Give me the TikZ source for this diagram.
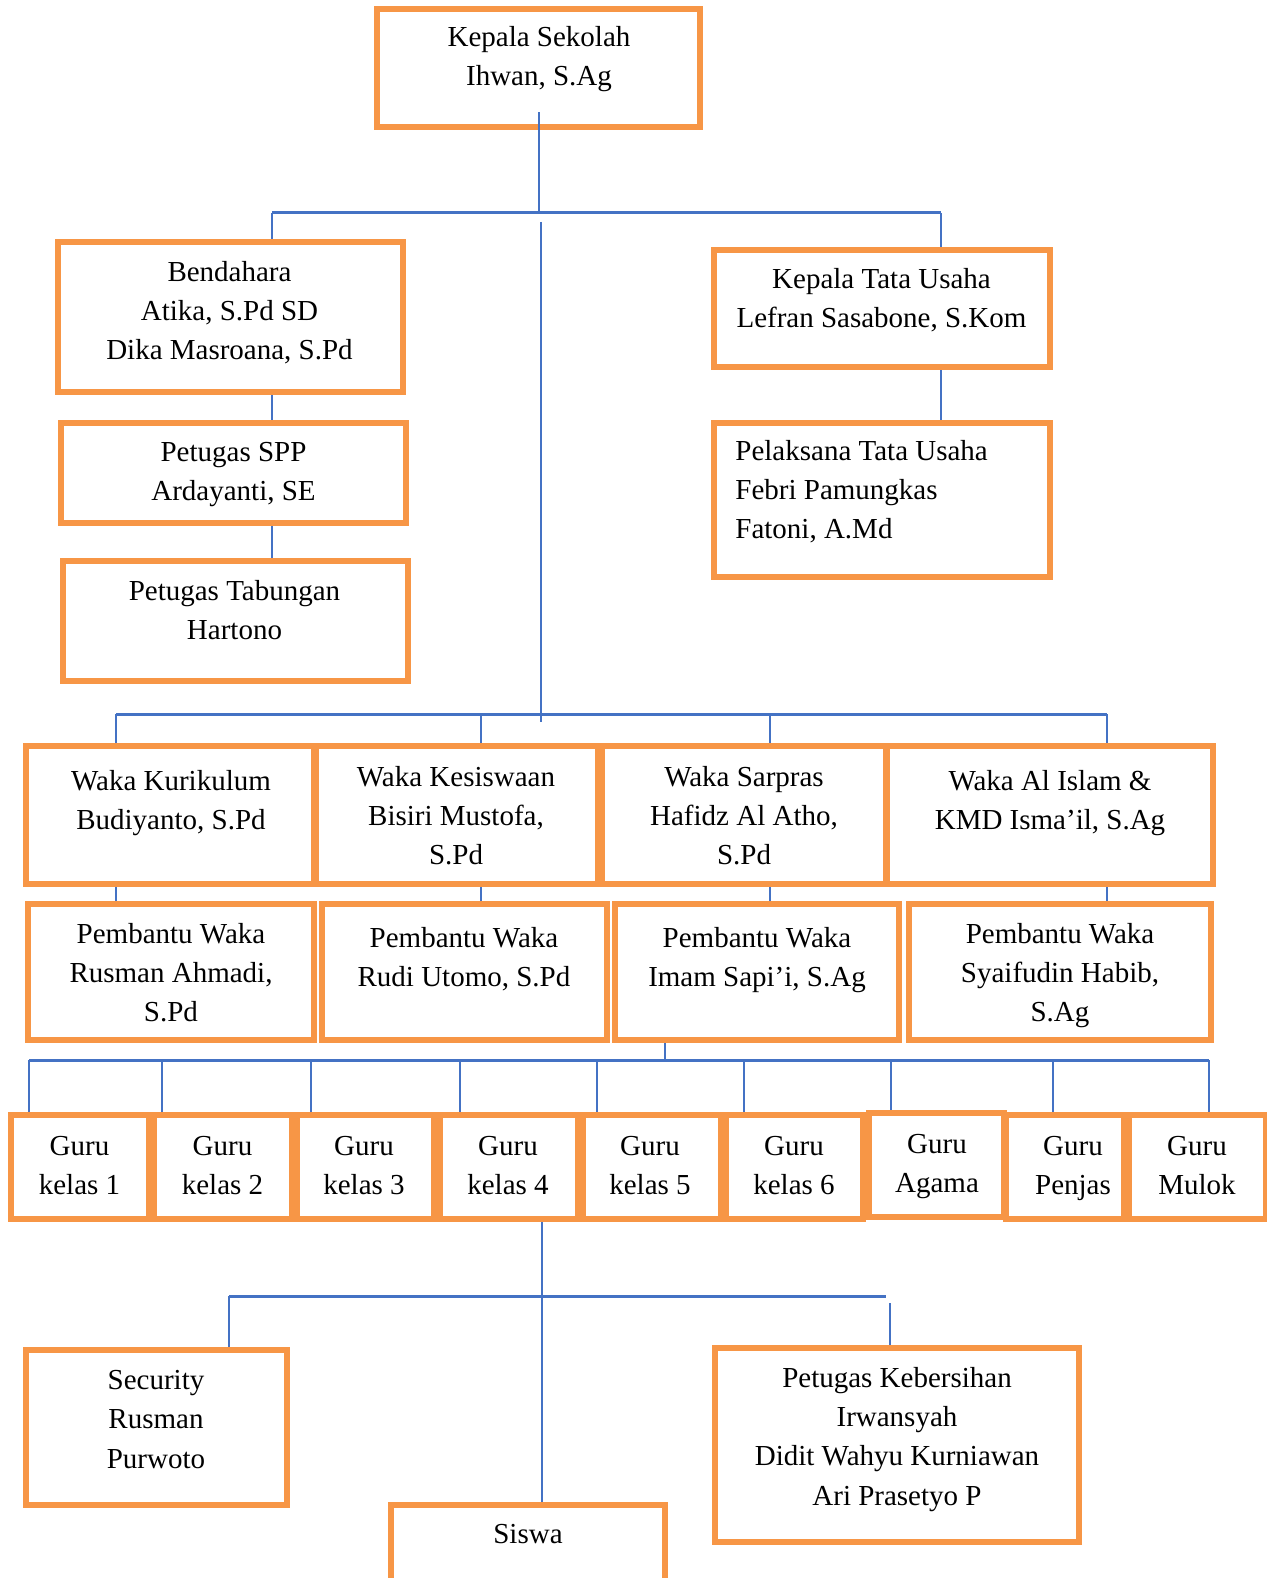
\documentclass[tikz,border=0pt]{standalone}
\usepackage{fontspec}
\setmainfont{Liberation Serif}
\usetikzlibrary{positioning}
\definecolor{boxorange}{HTML}{F79646}
\definecolor{linkblue}{HTML}{4472C4}

\begin{document}
\begin{tikzpicture}[x=0.5pt, y=-0.5pt,
  box/.style = {shape=rectangle, draw=boxorange, line width=3.2pt, inner sep=0pt},
  bx/.style 2 args = {minimum width=#1*0.5pt, minimum height=#2*0.5pt},
  txt/.style = {align=center, inner sep=0pt, anchor=north,
    font=\fontsize{14.5}{19.6}\selectfont},
  link/.style = {draw=linkblue, line width=1pt},
  bar/.style = {draw=linkblue, line width=1.5pt}]
  \path[use as bounding box, fill=white] (0,0) rectangle (1267,1578);

  % top level
  \node[box, bx={323}{118}] (ks) at (538.5,68) {};
  \node[txt] (ks-t) at (539,26) {Kepala Sekolah\\Ihwan, S.Ag};

  % left column
  \node[box, bx={345}{150}] (bend) at (230.5,317) {};
  \node[txt] (bend-t) at (229.5,261) {Bendahara\\Atika, S.Pd SD\\Dika Masroana, S.Pd};
  \node[box, bx={345}{100}] (spp) at (233.5,473) {};
  \node[txt] (spp-t) at (233.5,442) {Petugas SPP\\Ardayanti, SE};
  \node[box, bx={345}{120}] (tab) at (235.5,621) {};
  \node[txt] (tab-t) at (234.5,580) {Petugas Tabungan\\Hartono};

  % right column
  \node[box, bx={336}{117}] (ktu) at (882,308.5) {};
  \node[txt] (ktu-t) at (881.5,268) {Kepala Tata Usaha\\Lefran Sasabone, S.Kom};
  \node[box, bx={336}{154}] (pel) at (882,500) {};
  \node[txt, align=left, anchor=north west] (pel-t) at (735,440)
    {Pelaksana Tata Usaha\\Febri Pamungkas\\Fatoni, A.Md};

  % waka
  \node[box, bx={288}{138}] (wk1) at (170,815) {};
  \node[txt] (wk1-t) at (171,770) {Waka Kurikulum\\Budiyanto, S.Pd};
  \node[box, bx={282}{138}] (wk2) at (457,815) {};
  \node[txt] (wk2-t) at (456,766) {Waka Kesiswaan\\Bisiri Mustofa,\\S.Pd};
  \node[box, bx={284}{138}] (wk3) at (744,815) {};
  \node[txt] (wk3-t) at (744,766) {Waka Sarpras\\Hafidz Al Atho,\\S.Pd};
  \node[box, bx={326}{138}] (wk4) at (1050,815) {};
  \node[txt] (wk4-t) at (1050,770) {Waka Al Islam \&\\KMD Isma’il, S.Ag};

  % pembantu waka
  \node[box, bx={286}{136}] (pw1) at (171,972) {};
  \node[txt] (pw1-t) at (171,923) {Pembantu Waka\\Rusman Ahmadi,\\S.Pd};
  \node[box, bx={285}{136}] (pw2) at (464.5,972) {};
  \node[txt] (pw2-t) at (464,927) {Pembantu Waka\\Rudi Utomo, S.Pd};
  \node[box, bx={284}{136}] (pw3) at (757,972) {};
  \node[txt] (pw3-t) at (757,927) {Pembantu Waka\\Imam Sapi’i, S.Ag};
  \node[box, bx={302}{136}] (pw4) at (1060,972) {};
  \node[txt] (pw4-t) at (1060,923) {Pembantu Waka\\Syaifudin Habib,\\S.Ag};

  % guru
  \node[box, bx={138}{104}] (g1) at (80,1167) {};
  \node[txt] (g1-t) at (79.5,1135.5) {Guru\\kelas 1};
  \node[box, bx={138}{104}] (g2) at (223,1167) {};
  \node[txt] (g2-t) at (222.5,1135.5) {Guru\\kelas 2};
  \node[box, bx={137}{104}] (g3) at (365.5,1167) {};
  \node[txt] (g3-t) at (364,1135.5) {Guru\\kelas 3};
  \node[box, bx={138}{104}] (g4) at (509,1167) {};
  \node[txt] (g4-t) at (508,1135.5) {Guru\\kelas 4};
  \node[box, bx={138}{104}] (g5) at (652,1167) {};
  \node[txt] (g5-t) at (650,1135.5) {Guru\\kelas 5};
  \node[box, bx={137}{104}] (g6) at (794.5,1167) {};
  \node[txt] (g6-t) at (794,1135.5) {Guru\\kelas 6};
  \node[box, bx={135}{104}] (g7) at (936.5,1165) {};
  \node[txt] (g7-t) at (937,1133.5) {Guru\\Agama};
  \node[box, bx={118}{104}] (g8) at (1065,1167) {};
  \node[txt] (g8-t) at (1073,1135.5) {Guru\\Penjas};
  \node[box, bx={137}{104}] (g9) at (1197.5,1167) {};
  \node[txt] (g9-t) at (1197,1135.5) {Guru\\Mulok};

  % bottom
  \node[box, bx={261}{155}] (sec) at (156.5,1427.5) {};
  \node[txt] (sec-t) at (156,1370) {Security\\Rusman\\Purwoto};
  \node[box, bx={274}{95}] (sis) at (528,1552.5) {};
  \node[txt] (sis-t) at (528,1524) {Siswa};
  \node[box, bx={364}{194}] (keb) at (897,1445) {};
  \node[txt] (keb-t) at (897,1367)
    {Petugas Kebersihan\\Irwansyah\\Didit Wahyu Kurniawan\\Ari Prasetyo P};

  % connectors, upper part
  \coordinate (top-l) at (272,213);
  \coordinate (top-r) at (941,213);
  \draw[bar] (top-l) -- (top-r);
  \draw[link] (ks.south) ++(0,-18) -- (ks.south |- top-l);
  \draw[link] (top-l) -- (top-l |- bend.north);
  \draw[link] (top-r) -- (top-r |- ktu.north);
  \draw[link] (top-l |- bend.south) -- (top-l |- spp.north);
  \draw[link] (top-l |- spp.south) -- (top-l |- tab.north);
  \draw[link] (top-r |- ktu.south) -- (top-r |- pel.north);

  \coordinate (trunk-t) at (541,222);
  \coordinate (trunk-b) at (541,722);
  \draw[link] (trunk-t) -- (trunk-b);

  % connectors, waka rows
  \coordinate (wbar-1) at (116,714);
  \coordinate (wbar-2) at (481,714);
  \coordinate (wbar-3) at (770,714);
  \coordinate (wbar-4) at (1107,714);
  \draw[bar] (wbar-1) -- (wbar-4);
  \draw[link] (wbar-1) -- (wbar-1 |- wk1.north);
  \draw[link] (wbar-2) -- (wbar-2 |- wk2.north);
  \draw[link] (wbar-3) -- (wbar-3 |- wk3.north);
  \draw[link] (wbar-4) -- (wbar-4 |- wk4.north);
  \draw[link] (wbar-1 |- wk1.south) -- (wbar-1 |- pw1.north);
  \draw[link] (wbar-2 |- wk2.south) -- (wbar-2 |- pw2.north);
  \draw[link] (wbar-3 |- wk3.south) -- (wbar-3 |- pw3.north);
  \draw[link] (wbar-4 |- wk4.south) -- (wbar-4 |- pw4.north);

  % connectors, guru row
  \coordinate (gbar-c) at (665,1060);
  \coordinate (gbar-1) at (29,1060);
  \coordinate (gbar-2) at (162,1060);
  \coordinate (gbar-3) at (311,1060);
  \coordinate (gbar-4) at (460,1060);
  \coordinate (gbar-5) at (597,1060);
  \coordinate (gbar-6) at (744,1060);
  \coordinate (gbar-7) at (891,1060);
  \coordinate (gbar-8) at (1053,1060);
  \coordinate (gbar-9) at (1209,1060);
  \draw[link] (gbar-c |- pw3.south) -- (gbar-c);
  \draw[bar] (gbar-1) -- (gbar-9);
  \draw[link] (gbar-1) -- (gbar-1 |- g1.north);
  \draw[link] (gbar-2) -- (gbar-2 |- g2.north);
  \draw[link] (gbar-3) -- (gbar-3 |- g3.north);
  \draw[link] (gbar-4) -- (gbar-4 |- g4.north);
  \draw[link] (gbar-5) -- (gbar-5 |- g5.north);
  \draw[link] (gbar-6) -- (gbar-6 |- g6.north);
  \draw[link] (gbar-7) -- (gbar-7 |- g7.north);
  \draw[link] (gbar-8) -- (gbar-8 |- g8.north);
  \draw[link] (gbar-9) -- (gbar-9 |- g9.north);

  % connectors, lower part
  \coordinate (lbar-l) at (229,1296);
  \coordinate (lbar-c) at (542,1296);
  \coordinate (lbar-r) at (886,1296);
  \coordinate (keb-top) at (890,1303);
  \draw[link] (lbar-c |- g4.south) -- (lbar-c |- sis.north);
  \draw[bar] (lbar-l) -- (lbar-r);
  \draw[link] (lbar-l) -- (lbar-l |- sec.north);
  \draw[link] (keb-top) -- (keb-top |- keb.north);
\end{tikzpicture}
\end{document}
